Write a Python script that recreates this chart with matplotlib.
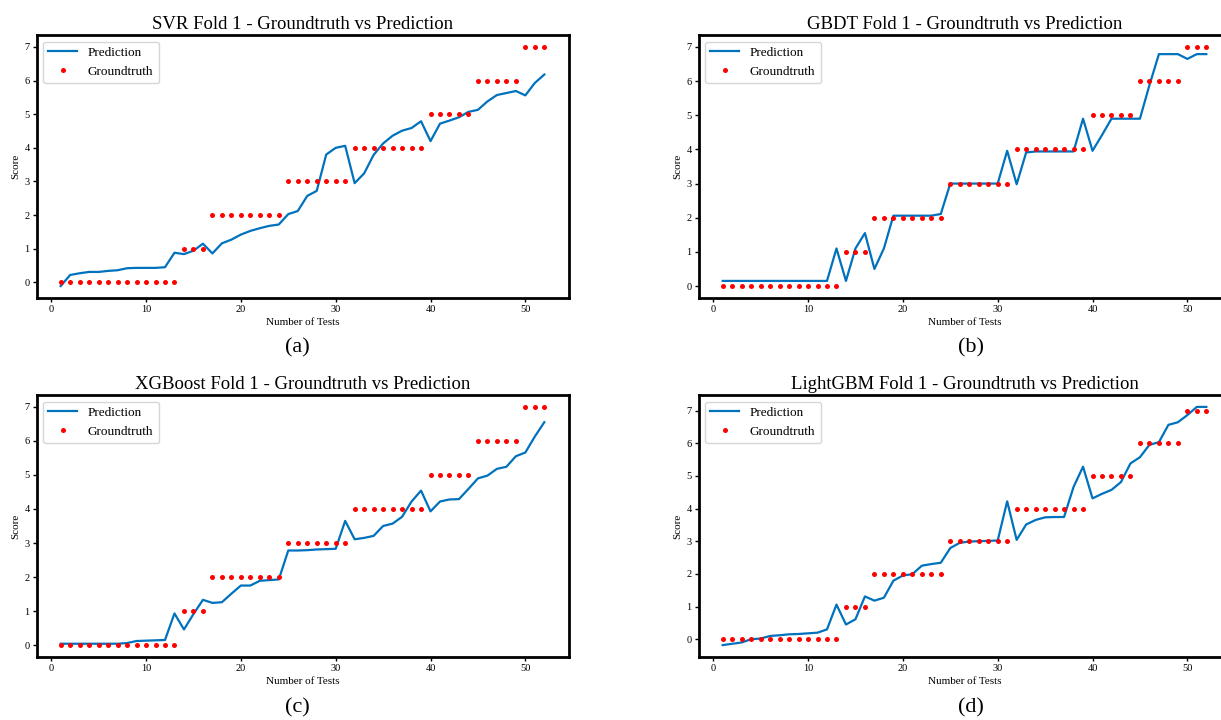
import numpy as np
import matplotlib
matplotlib.use("Agg")
import matplotlib.pyplot as plt

plt.rcParams['font.family'] = ['Liberation Serif', 'DejaVu Serif']

tests = list(range(1, 53))
groundtruth = [0]*13 + [1]*3 + [2]*8 + [3]*7 + [4]*8 + [5]*5 + [6]*5 + [7]*3

svr_pred = [-0.11, 0.22, 0.27, 0.31, 0.31, 0.34, 0.36, 0.42, 0.43, 0.43, 0.43, 0.45,
            0.88, 0.84, 0.94, 1.15, 0.86, 1.16, 1.27, 1.42, 1.53, 1.61, 1.68, 1.72,
            2.03, 2.12, 2.57, 2.72, 3.80, 4.00, 4.06, 2.95, 3.24, 3.79, 4.13, 4.36,
            4.51, 4.59, 4.79, 4.20, 4.72, 4.81, 4.91, 5.07, 5.13, 5.38, 5.57, 5.63,
            5.69, 5.56, 5.93, 6.18]
gbdt_pred = [0.15]*12 + [1.10, 0.15, 1.10, 1.55, 0.50, 1.10, 2.06, 2.06, 2.06, 2.06, 2.06, 2.11,
             3.0, 3.0, 3.0, 3.0, 3.0, 3.0, 3.96, 2.98, 3.91, 3.94, 3.94, 3.94, 3.94, 3.94,
             4.90, 3.96, 4.42, 4.90, 4.90, 4.90, 4.90, 5.88, 6.79, 6.79, 6.79, 6.65, 6.79, 6.79]
xgb_pred = [0.04]*7 + [0.06, 0.12, 0.13, 0.14, 0.15, 0.93, 0.46, 0.91, 1.33, 1.24, 1.26,
            1.51, 1.75, 1.75, 1.89, 1.91, 1.93, 2.78, 2.78, 2.79, 2.81, 2.82, 2.83,
            3.65, 3.11, 3.15, 3.21, 3.50, 3.57, 3.77, 4.22, 4.54, 3.93, 4.22, 4.28,
            4.29, 4.59, 4.90, 4.98, 5.18, 5.24, 5.55, 5.66, 6.13, 6.55]
lgbm_pred = [-0.18, -0.14, -0.10, 0.0, 0.02, 0.10, 0.12, 0.15, 0.16, 0.18, 0.20, 0.30,
             1.06, 0.45, 0.61, 1.31, 1.18, 1.27, 1.79, 1.95, 1.99, 2.25, 2.30, 2.34,
             2.79, 2.95, 2.99, 3.00, 3.01, 3.02, 4.22, 3.04, 3.51, 3.65, 3.73, 3.74,
             3.74, 4.66, 5.28, 4.31, 4.45, 4.57, 4.81, 5.38, 5.57, 5.95, 6.03, 6.56,
             6.64, 6.86, 7.11, 7.11]

titles = ["SVR Fold 1 - Groundtruth vs Prediction",
          "GBDT Fold 1 - Groundtruth vs Prediction",
          "XGBoost Fold 1 - Groundtruth vs Prediction",
          "LightGBM Fold 1 - Groundtruth vs Prediction"]
captions = ["(a)", "(b)", "(c)", "(d)"]
preds = [svr_pred, gbdt_pred, xgb_pred, lgbm_pred]

W, H = 1221, 720
fig = plt.figure(figsize=(W/100, H/100), dpi=100)

ax_w = 532 / W
lefts = [36.5/W, 698.5/W, 36.5/W, 698.5/W]
tops = [35, 35, 395, 395]
bottoms = [298, 298, 657, 657]
cap_x = [297, 971, 297, 971]
cap_y = [348, 348, 708, 708]

for i in range(4):
    b = 1 - bottoms[i]/H
    h = (bottoms[i] - tops[i]) / H
    ax = fig.add_axes([lefts[i], b, ax_w, h])
    ax.plot(tests, preds[i], color='#0072BD', lw=1.6, label='Prediction')
    ax.plot(tests, groundtruth, 'o', color='red', markersize=3.6, markeredgewidth=0,
            label='Groundtruth')
    ax.set_title(titles[i], fontsize=13.5, pad=4)
    ax.set_xlabel("Number of Tests", fontsize=8, labelpad=3)
    ax.set_ylabel("Score", fontsize=8, labelpad=3)
    ax.tick_params(labelsize=7.5, length=3, width=1, pad=2)
    ax.set_xticks([0, 10, 20, 30, 40, 50])
    ax.set_yticks(range(8))
    for s in ax.spines.values():
        s.set_linewidth(2)
    ax.legend(loc='upper left', fontsize=9.5, handlelength=2.2)
    fig.text(cap_x[i]/W, 1 - cap_y[i]/H, captions[i], fontsize=16,
             ha='center', va='center')

fig.savefig("out.png", dpi=100)
